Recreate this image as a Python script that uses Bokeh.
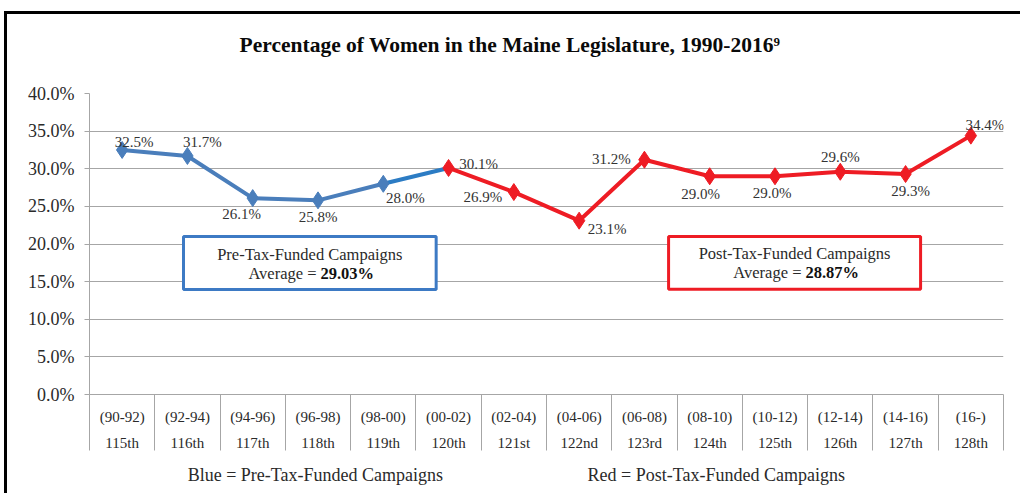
from bokeh.plotting import figure
from bokeh.models import (ColumnDataSource, LabelSet, Label, BoxAnnotation, LinearAxis,
                          FixedTicker, PrintfTickFormatter, Range1d)
from bokeh.core.properties import value
from bokeh.embed import file_html
from bokeh.resources import INLINE

# ---- data ----
periods = ["(90-92)", "(92-94)", "(94-96)", "(96-98)", "(98-00)", "(00-02)", "(02-04)",
           "(04-06)", "(06-08)", "(08-10)", "(10-12)", "(12-14)", "(14-16)", "(16-)"]
congresses = ["115th", "116th", "117th", "118th", "119th", "120th", "121st",
              "122nd", "123rd", "124th", "125th", "126th", "127th", "128th"]
pct_women = [32.5, 31.7, 26.1, 25.8, 28.0, 30.1, 26.9, 23.1, 31.2, 29.0, 29.0, 29.6, 29.3, 34.4]
pre_last = 5          # index of 120th (last pre-tax point / first post-tax point)
y_ticks = [0, 5, 10, 15, 20, 25, 30, 35, 40]
title_text = "Percentage of Women in the Maine Legislature, 1990-2016\u2079"
pre_box_title = "Pre-Tax-Funded Campaigns"
pre_box_avg = "29.03%"
post_box_title = "Post-Tax-Funded Campaigns"
post_box_avg = "28.87%"
legend_texts = ["Blue = Pre-Tax-Funded Campaigns", "Red = Post-Tax-Funded Campaigns"]

# ---- style / placement ----
title_pos = 6.44
legend_pos = [3.46, 9.6]
lab_dx = [12, 15, -11, 0, 22, 30, -31, 28, -33, -9, -3, 0, 5, 14]
lab_dy = [8, 14, -16, -17, -14, 4, -5, -8, 1, -18, -17, 15, -17, 11]

FONT = "Liberation Serif"
BLUE = "#4a7ebb"
BLUE2 = "#2c7cc4"
RED = "#ee1c24"
GRID = "#a6a6a6"
TXT = "#2a2a2a"

n = len(congresses)
xs = [i + 0.5 for i in range(n)]

p = figure(width=1016, height=482, output_backend="svg", toolbar_location=None,
           x_range=Range1d(0, n), y_range=Range1d(0, 40),
           min_border_left=82, min_border_right=20, min_border_top=79, min_border_bottom=102)
p.styles = {"border-left": "3px solid black", "border-top": "3px solid black",
            "margin-left": "4px", "margin-top": "11px"}
p.outline_line_color = None
p.background_fill_color = "white"
p.border_fill_color = "white"
p.title.visible = False

# y axis
p.xgrid.grid_line_color = None
p.ygrid.grid_line_color = GRID
p.ygrid.ticker = FixedTicker(ticks=y_ticks)
p.yaxis.ticker = FixedTicker(ticks=y_ticks)
p.yaxis.formatter = PrintfTickFormatter(format="%.1f%%")
p.yaxis.axis_line_color = GRID
p.yaxis.major_tick_line_color = GRID
p.yaxis.major_tick_out = 5
p.yaxis.major_tick_in = 0
p.yaxis.minor_tick_line_color = None
p.yaxis.major_label_text_font = FONT
p.yaxis.major_label_text_font_size = "18px"
p.yaxis.major_label_text_color = TXT
p.yaxis.major_label_standoff = 10

# x axis: category labels (two rows) with separators as minor ticks
xax = p.below[0]
xax.ticker = FixedTicker(ticks=xs, minor_ticks=list(range(n + 1)))
xax.major_label_overrides = {x: f"{a}\n{b}" for x, a, b in zip(xs, periods, congresses)}
xax.axis_line_color = GRID
xax.major_tick_line_color = None
xax.major_tick_out = 0
xax.major_tick_in = 0
xax.minor_tick_line_color = GRID
xax.minor_tick_out = 56
xax.minor_tick_in = 0
xax.major_label_text_font = FONT
xax.major_label_text_font_size = "15px"
xax.major_label_text_color = TXT
xax.major_label_text_line_height = 1.67
xax.major_label_standoff = -42

# chart title as a single centred label above the plot area
tax = LinearAxis(ticker=FixedTicker(ticks=[title_pos]),
                 major_label_overrides={title_pos: title_text},
                 axis_line_color=None, major_tick_line_color=None, minor_tick_line_color=None,
                 major_label_text_font=FONT, major_label_text_font_size="21.5px",
                 major_label_text_font_style="bold", major_label_text_color="#0a0a0a",
                 major_label_standoff=31)
p.add_layout(tax, "above")

# bottom "legend" texts
lax = LinearAxis(ticker=FixedTicker(ticks=legend_pos),
                 major_label_overrides={x: t for x, t in zip(legend_pos, legend_texts)},
                 axis_line_color=None, major_tick_line_color=None, minor_tick_line_color=None,
                 major_label_text_font=FONT, major_label_text_font_size="18px",
                 major_label_text_color=TXT, major_label_standoff=4)
p.add_layout(lax, "below")

# lines and markers
p.line(xs[:pre_last], pct_women[:pre_last], line_color=BLUE, line_width=4)
p.line(xs[pre_last - 1:pre_last + 1], pct_women[pre_last - 1:pre_last + 1], line_color=BLUE2, line_width=4)
p.line(xs[pre_last:], pct_women[pre_last:], line_color=RED, line_width=4)
p.scatter(xs[:pre_last], pct_women[:pre_last], marker="diamond", size=17,
          fill_color=BLUE, line_color=BLUE)
p.scatter(xs[pre_last:], pct_women[pre_last:], marker="diamond", size=17,
          fill_color=RED, line_color=RED)

# data labels
src = ColumnDataSource(dict(x=xs, y=pct_women, txt=[f"{v:.1f}%" for v in pct_women],
                            dx=lab_dx, dy=lab_dy))
p.add_layout(LabelSet(x="x", y="y", text="txt", x_offset="dx", y_offset="dy", source=src,
                      text_font=value(FONT), text_font_size="15px", text_color="#333333",
                      text_align="center", text_baseline="middle"))

# average boxes
p.add_layout(BoxAnnotation(left=1.44, right=5.31, bottom=13.95, top=21.0,
                           fill_color="white", fill_alpha=1, line_color="#3d7ac4",
                           line_alpha=1, line_width=3))
p.add_layout(BoxAnnotation(left=8.87, right=12.73, bottom=14.0, top=21.0,
                           fill_color="white", fill_alpha=1, line_color=RED,
                           line_alpha=1, line_width=3))

def box_text(cx, y1, y2, split, title, avg):
    p.add_layout(Label(x=cx, y=y1, text=title, text_font=FONT, text_font_size="16.5px",
                       text_color=TXT, text_align="center", text_baseline="middle"))
    p.add_layout(Label(x=split, y=y2, text="Average =", text_font=FONT, text_font_size="16.5px",
                       text_color=TXT, text_align="right", text_baseline="middle"))
    p.add_layout(Label(x=split, x_offset=4, y=y2, text=avg, text_font=FONT, text_font_size="16.5px",
                       text_font_style="bold", text_color="#111111", text_align="left",
                       text_baseline="middle"))

box_text(3.375, 18.6, 16.1, 3.477, pre_box_title, pre_box_avg)
box_text(10.8, 18.7, 16.2, 10.905, post_box_title, post_box_avg)

open("out.html", "w").write(file_html(p, INLINE))
